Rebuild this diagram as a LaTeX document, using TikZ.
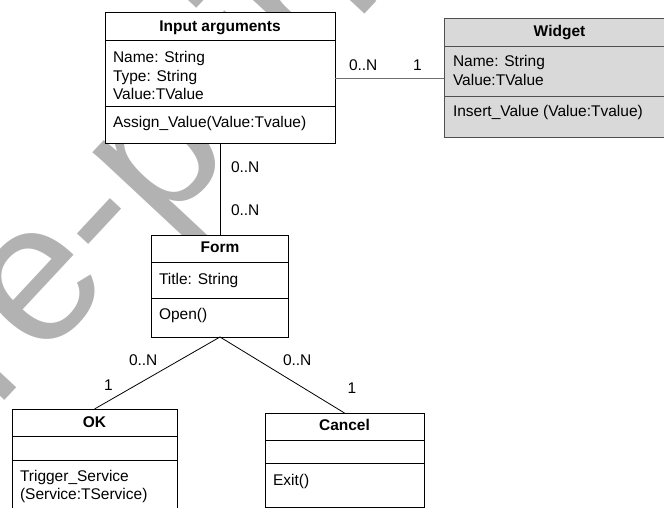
\documentclass[tikz,border=0pt]{standalone}
\usepackage{fontspec}
\setmainfont{Liberation Sans}
\definecolor{wm}{RGB}{178,178,178}
\definecolor{wfill}{RGB}{217,217,217}
\definecolor{wline}{RGB}{80,80,80}
\definecolor{wconn}{RGB}{112,112,112}
\begin{document}
\begin{tikzpicture}[x=1pt,y=-1pt,
  cls/.style={draw=black,line width=1pt,fill=white,inner sep=0pt,outer sep=0pt,rectangle},
  txt/.style={inner sep=0pt,outer sep=0pt,anchor=base west,font=\fontsize{15.5}{18.5}\selectfont},
  ttl/.style={inner sep=0pt,outer sep=0pt,anchor=base,font=\fontsize{15.5}{18.5}\selectfont\bfseries},
  conn/.style={draw=black,line width=0.8pt},
  sep/.style={draw=black,line width=1pt}]
\useasboundingbox (0,0) rectangle (664,508);
\begin{scope}
\clip (0,0) rectangle (664,508);
% watermark
\node[rotate=47,anchor=base west,inner sep=0pt,text=wm,font=\fontsize{198}{198}\selectfont] (wmk) at (-80,491) {pre-print};

% Input arguments
\node[cls,minimum width=230pt,minimum height=131pt] (inp) at (220,78.5) {};
\draw[sep] (inp.west |- 0,41) -- (inp.east |- 0,41);
\draw[sep] (inp.west |- 0,107) -- (inp.east |- 0,107);
\node[ttl] (inpT) at (220,31.7) {Input arguments};
\node[txt] (inpA1) at (113,63) {Name: String};
\node[txt] (inpA2) at (113,81.5) {Type: String};
\node[txt] (inpA3) at (113,100) {Value:TValue};
\node[txt] (inpM1) at (113,128) {Assign\_Value(Value:Tvalue)};

% Widget
\node[cls,draw=wline,fill=wfill,minimum width=231pt,minimum height=119pt] (wid) at (559.5,78.5) {};
\draw[sep,draw=wline] (wid.west |- 0,47) -- (wid.east |- 0,47);
\draw[sep,draw=wline] (wid.west |- 0,97) -- (wid.east |- 0,97);
\node[ttl] (widT) at (559.5,37) {Widget};
\node[txt] (widA1) at (453,66.7) {Name: String};
\node[txt] (widA2) at (453,85.5) {Value:TValue};
\node[txt] (widM1) at (453,116.7) {Insert\_Value (Value:Tvalue)};

% Form
\node[cls,minimum width=137pt,minimum height=102pt] (form) at (220,286) {};
\draw[sep] (form.west |- 0,262) -- (form.east |- 0,262);
\draw[sep] (form.west |- 0,298) -- (form.east |- 0,298);
\node[ttl] (formT) at (220,252.7) {Form};
\node[txt] (formA1) at (159,284) {Title: String};
\node[txt] (formM1) at (159,319.5) {Open()};

% OK
\node[cls,minimum width=165pt,minimum height=121pt] (ok) at (94.5,469.5) {};
\draw[sep] (ok.west |- 0,436) -- (ok.east |- 0,436);
\draw[sep] (ok.west |- 0,460) -- (ok.east |- 0,460);
\node[ttl] (okT) at (94.5,427.3) {OK};
\node[txt] (okM1) at (20,481.5) {Trigger\_Service};
\node[txt] (okM2) at (20,499.5) {(Service:TService)};

% Cancel
\node[cls,minimum width=159pt,minimum height=94pt] (cancel) at (344.5,460) {};
\draw[sep] (cancel.west |- 0,440) -- (cancel.east |- 0,440);
\draw[sep] (cancel.west |- 0,463) -- (cancel.east |- 0,463);
\node[ttl] (cancelT) at (344.5,430) {Cancel};
\node[txt] (cancelM1) at (273,485) {Exit()};

% connectors
\draw[conn,draw=wconn] (inp.east |- wid.west) -- (wid.west);
\draw[conn] (inp.south) -- (form.north);
\draw[conn] (form.south) -- (ok.north);
\draw[conn] (form.south) -- (cancel.north);

% multiplicities
\node[txt] (m1) at (349,71) {0..N};
\node[txt] (m2) at (413,71) {1};
\node[txt] (m3) at (231,172.7) {0..N};
\node[txt] (m4) at (231,215) {0..N};
\node[txt] (m5) at (129,365.7) {0..N};
\node[txt] (m6) at (104,390) {1};
\node[txt] (m7) at (283,365.7) {0..N};
\node[txt] (m8) at (347.7,393.3) {1};
\end{scope}
\end{tikzpicture}
\end{document}
